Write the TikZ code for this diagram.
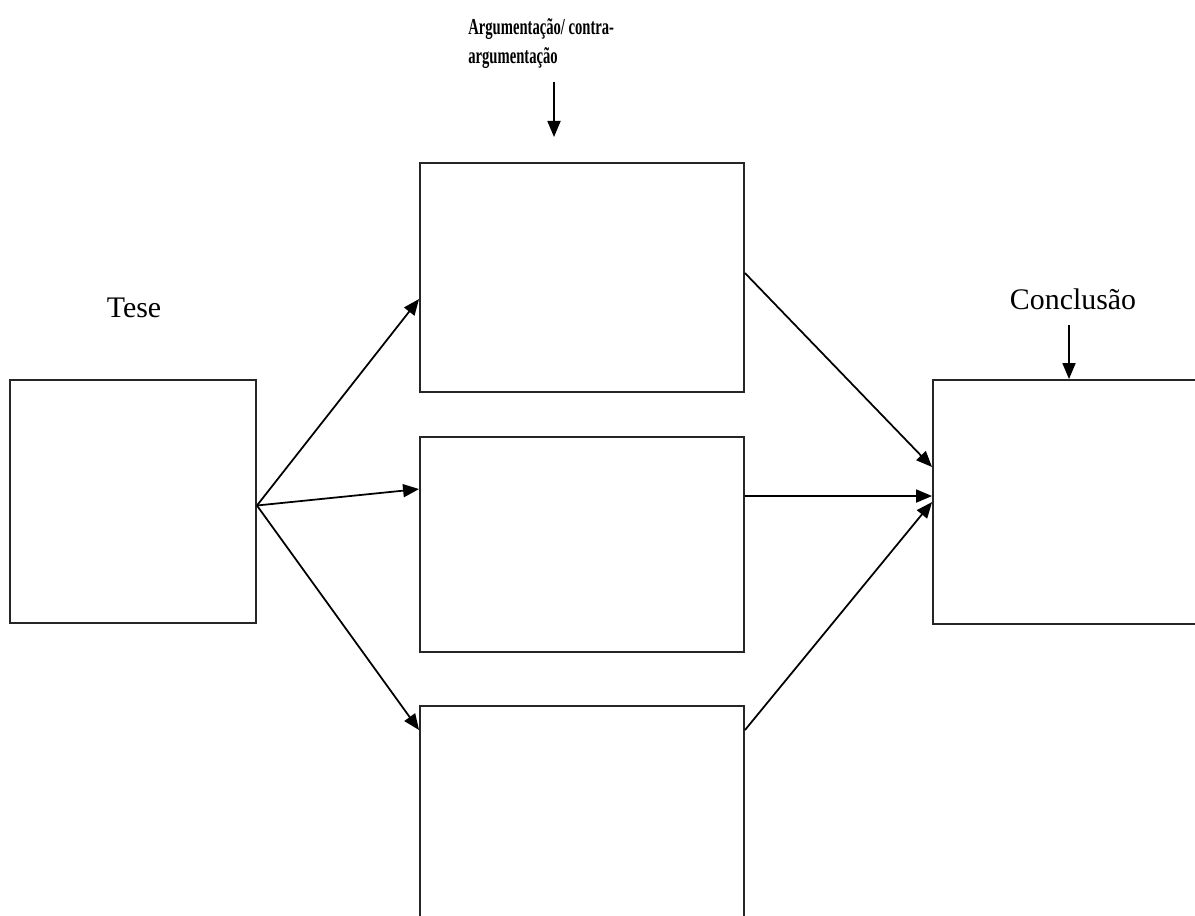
\documentclass[tikz,border=0pt]{standalone}
\usepackage{fontspec}
\setmainfont{Liberation Serif}
\usepackage{graphicx}
\usetikzlibrary{arrows.meta}
\begin{document}
\begin{tikzpicture}[x={(0.02cm,0cm)}, y={(0cm,-0.02cm)}]
%styles
\tikzstyle{box}=[rectangle, draw=black!85, line width=1.1pt, inner sep=0pt]
\tikzstyle{textLine}=[rectangle, text=black, inner sep=0pt, font=\fontsize{17}{20}\selectfont]
\tikzstyle{flow}=[-{Triangle[length=0.32cm,width=0.26cm]}, line width=1pt]
%frame
\useasboundingbox (0,0) rectangle (1195,915);
\clip (0,0) rectangle (1195,915);
%figure
\node[box, minimum width=4.92cm, minimum height=4.86cm] (tese) at (133,501.5) {};
\node[box, minimum width=6.48cm, minimum height=4.58cm] (argA) at (582,277.5) {};
\node[box, minimum width=6.48cm, minimum height=4.3cm] (argB) at (582,544.5) {};
\node[box, minimum width=6.48cm, minimum height=4.68cm] (argC) at (582,823) {};
\node[box, minimum width=5.54cm, minimum height=4.88cm] (concl) at (1071.5,502) {};
%text
\node[textLine, anchor=base] (teseTxt) at (134,317) {Tese};
\node[textLine, anchor=base] (conclTxt) at (1073,309) {Conclusão};
\node[textLine, anchor=north west, align=left, font=\bfseries\fontsize{13}{16.4}\selectfont] (argTxt) at (468,18)
  {\scalebox{0.64}[1]{Argumentação/ contra-}\\\scalebox{0.64}[1]{argumentação}};
% arrows in
\coordinate (argIn) at (554,82);
\coordinate (argOut) at (554,137);
\draw[flow] (argIn) -- (argOut);
\coordinate (conclIn) at (1069,325);
\draw[flow] (conclIn) -- (conclIn |- concl.north);
% tese -> argumentos
\draw[flow] ([yshift=-0.08cm]tese.east) -- ([yshift=-2.74cm]argA.north west);
\draw[flow] ([yshift=-0.08cm]tese.east) -- ([yshift=-1.06cm]argB.north west);
\draw[flow] ([yshift=-0.08cm]tese.east) -- ([yshift=-0.5cm]argC.north west);
% argumentos -> conclusao
\draw[flow] ([yshift=-2.22cm]argA.north east) -- ([yshift=-1.76cm]concl.north west);
\draw[flow] ([yshift=-1.2cm]argB.north east) -- ([yshift=-2.34cm]concl.north west);
\draw[flow] ([yshift=-0.5cm]argC.north east) -- ([yshift=-2.46cm]concl.north west);
\end{tikzpicture}
\end{document}
